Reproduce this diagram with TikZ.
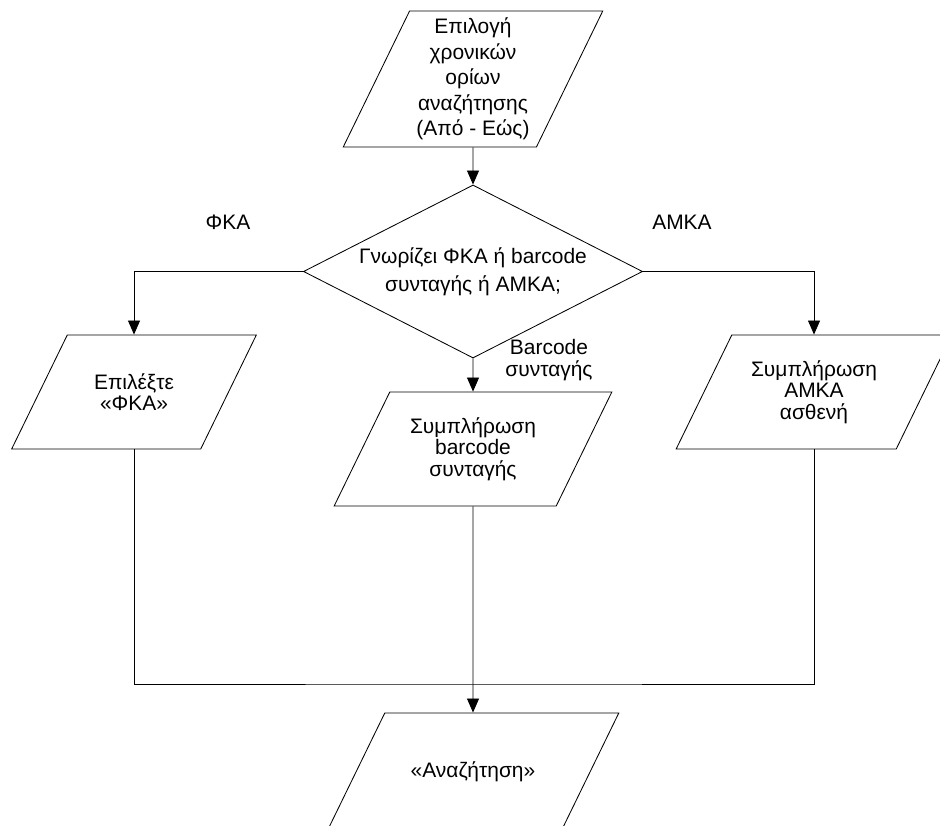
\documentclass[tikz,border=0pt]{standalone}
\usepackage{fontspec}
\setmainfont{Liberation Sans}
\usetikzlibrary{shapes.geometric,arrows.meta}

\begin{document}
\begin{tikzpicture}[x=0.025cm,y=-0.025cm,line width=0.6pt,
  >={Triangle[length=0.35cm,width=0.3cm]},
  every node/.style={font=\fontsize{14.9}{15.3}\selectfont},
  datain/.style 2 args={draw,trapezium,trapezium left angle=64,trapezium right angle=116,
    inner sep=0pt,execute at begin node={\begin{minipage}[c][#2][c]{#1}\centering},
    execute at end node={\end{minipage}}},
  query/.style={draw,diamond,aspect=1.96,inner sep=0pt,align=center,
    minimum width=8.475cm,minimum height=4.325cm}]
\useasboundingbox (0,0) rectangle (940,826);
\node[datain={3.17cm}{3.4cm},font=\fontsize{14.9}{18.2}\selectfont] (range) at (473,79) {Επιλογή\\χρονικών\\ορίων\\αναζήτησης\\(Από - Εώς)};
\node[query,font=\fontsize{14.9}{19.7}\selectfont] (knows) at (473,271.5) {Γνωρίζει ΦΚΑ ή barcode\\συνταγής ή ΑΜΚΑ;};
\node[datain={3.335cm}{2.85cm}] (fka) at (134,392) {Επιλέξτε\\«ΦΚΑ»};
\node[datain={4.16cm}{2.85cm}] (barcode) at (473,449) {Συμπλήρωση\\barcode\\συνταγής};
\node[datain={4.11cm}{2.85cm}] (amka) at (814,392) {Συμπλήρωση\\ΑΜΚΑ\\ασθενή};
\node[datain={4.41cm}{2.95cm}] (search) at (473,772) {«Αναζήτηση»};
\node (lfka) at (228,222) {ΦΚΑ};
\node (lamka) at (682,222) {ΑΜΚΑ};
\node[align=center] (lbar) at (549,360) {Barcode\\συνταγής};
\coordinate (merge) at (473,684);
\draw[->] (range) -- (knows);
\draw[->] (knows.west) -| (fka);
\draw[->] (knows.east) -| (amka);
\draw[->] (knows) -- (barcode);
\draw (fka) |- (merge) -| (amka);
\draw[->] (barcode) -- (search);
\end{tikzpicture}
\end{document}
